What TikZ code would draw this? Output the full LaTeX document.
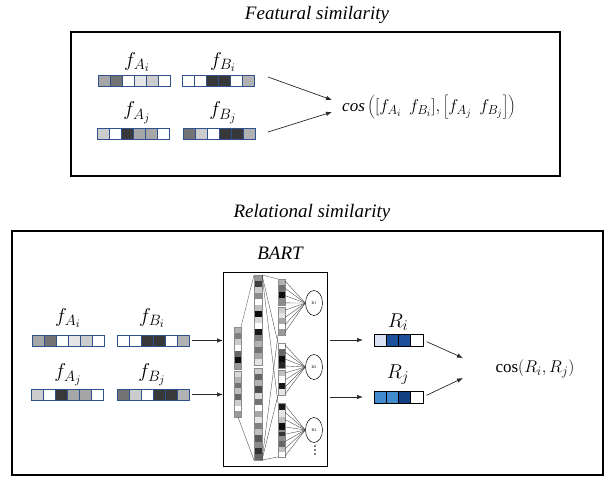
\documentclass[tikz,border=0pt]{standalone}
\usepackage{fix-cm}
\usepackage{fontspec}
\setmainfont{Liberation Serif}
\usetikzlibrary{arrows.meta,shapes.geometric}
\DeclareMathSizes{20}{20}{15}{11.5}
\DeclareMathSizes{17}{17}{13}{10}

\definecolor{cellblue}{RGB}{47,82,143}
\definecolor{riA}{RGB}{218,227,243}
\definecolor{riB}{RGB}{28,80,155}
\definecolor{rjA}{RGB}{66,140,205}
\definecolor{rjB}{RGB}{18,64,130}
\definecolor{linkgray}{RGB}{40,40,40}

\tikzset{
  panel/.style={draw=black, line width=2.4pt},
  title/.style={font=\fontsize{19}{22}\selectfont\itshape, inner sep=0},
  flabel/.style={font=\fontsize{20}{23}\selectfont, inner sep=0},
  mathtext/.style={font=\fontsize{17}{20}\selectfont, inner sep=0},
  conn/.style={draw=linkgray, line width=0.7pt, -{Latex[length=6pt,width=4.5pt]}},
  framebox/.style={inner sep=0, outer sep=0, anchor=north west},
  net/.style={draw=black!75, line width=0.35pt},
  colframe/.style={draw=black!45, line width=0.4pt},
  relnode/.style={ellipse, draw, line width=0.5pt, minimum width=17pt,
    minimum height=25pt, inner sep=0, font=\fontsize{4}{5}\selectfont},
}

% bar of six grey cells with blue outlines: name, left, top, grey list
\newcommand\featbar[4]{%
  \foreach \g [count=\k from 0] in {#4}{%
    \filldraw[draw=cellblue, line width=1pt, fill=black!\g]
      ({#2+12*\k},{#3}) rectangle ++(12,11);
  }%
  \node[framebox, minimum width=72pt, minimum height=11pt] (#1) at (#2,#3) {};
}

% bar of four relation cells: name, left, top, colour list
\newcommand\relvec[4]{%
  \foreach \c [count=\k from 0] in {#4}{%
    \filldraw[draw=black, line width=0.9pt, fill=\c]
      ({#2+12.25*\k},{#3}) rectangle ++(12.25,12);
  }%
  \node[framebox, minimum width=49pt, minimum height=12pt] (#1) at (#2,#3) {};
}

% column of grey network units: left, top, width, cell height, cells, grey list
\newcommand\netcol[6]{%
  \foreach \g [count=\k from 0] in {#6}{%
    \fill[black!\g] ({#1},{#2+#4*\k}) rectangle ++(#3,#4);
  }%
  \draw[colframe] (#1,#2) rectangle ++(#3,{#4*#5});
}

\begin{document}
\begin{tikzpicture}[x=1pt,y=-1pt]
\useasboundingbox (0,0) rectangle (605,478);

% ---------------- featural similarity ----------------
\node[title] (ftitle) at (317,15) {Featural similarity};
\draw[panel] (71,32) rectangle (560,176);

\node[flabel] (lai) at (137,62) {$f_{A_i}$};
\node[flabel] (lbi) at (223,62) {$f_{B_i}$};
\node[flabel] (laj) at (137,113) {$f_{A_j}$};
\node[flabel] (lbj) at (223,113) {$f_{B_j}$};

\featbar{tai}{98}{76}{35,55,0,10,20,0}
\featbar{tbi}{182}{76}{0,0,78,78,0,30}
\featbar{taj}{97}{129}{20,0,78,35,35,0}
\featbar{tbj}{183}{129}{55,20,0,78,78,30}

\coordinate (fi) at (268,77);
\coordinate (fj) at (268,132);
\coordinate (ti) at (332,100);
\coordinate (tj) at (332,112);
\draw[conn] (fi) -- (ti);
\draw[conn] (fj) -- (tj);

\node[mathtext, anchor=west] (fcos) at (342,107)
  {$\mathit{cos}\left(\left[f_{A_i}\;\,f_{B_i}\right]\!,\left[f_{A_j}\;\,f_{B_j}\right]\right)$};

% ---------------- relational similarity ----------------
\node[title] (rtitle) at (312,213) {Relational similarity};
\draw[panel] (12,231) rectangle (603,475);

\node[flabel] (mai) at (68,318) {$f_{A_i}$};
\node[flabel] (mbi) at (152,318) {$f_{B_i}$};
\node[flabel] (maj) at (68,375) {$f_{A_j}$};
\node[flabel] (mbj) at (152,375) {$f_{B_j}$};

\featbar{bai}{32}{335}{35,55,0,10,20,0}
\featbar{bbi}{117}{335}{0,0,78,78,0,30}
\featbar{baj}{31}{389}{20,0,78,35,35,0}
\featbar{bbj}{117}{389}{55,20,0,78,78,30}

% BART network
\node[title] (barttitle) at (280,253) {BART};
\node[framebox, draw, line width=0.6pt, minimum width=104pt, minimum height=194pt]
  (bart) at (223,272) {};

% input units
\netcol{234}{327}{7}{6}{7}{30,50,20,0,60,95,40}
\netcol{234}{371}{7}{5.75}{8}{15,30,55,25,60,20,0,40}
% hidden units
\netcol{254}{275}{8}{6}{15}{40,75,20,45,0,25,95,15,0,90,50,30,55,35,10}
\netcol{254}{368}{8}{6.13}{15}{20,60,30,70,15,55,0,35,10,50,25,65,45,80,60}
% relation-specific units
\netcol{278}{279}{7}{6.5}{4}{30,55,95,45}
\netcol{278}{307}{7}{5.6}{5}{20,10,35,0,40}
\netcol{278}{343}{7}{6.25}{4}{0,60,95,85}
\netcol{278}{370}{7}{6.25}{4}{25,0,90,10}
\netcol{278}{403}{7}{6.75}{4}{90,10,25,95}
\netcol{278}{431}{7}{5.2}{5}{80,45,60,25,0}

% connections between layers
\draw[net] (241,327) -- (254,275);
\draw[net] (238,417) -- (254,460);
\foreach \t in {279,343,403} \draw[net] (262,275) -- (278,\t);
\foreach \b in {335,395,457} \draw[net] (262,460) -- (278,\b);

\node[relnode] (rone) at (314,303) {R1};
\node[relnode] (rtwo) at (314,367) {R2};
\node[relnode] (rthree) at (314,430) {R3};

\foreach \t in {0,...,7} \draw[net] (285,{281+\t*7.3}) -- (rone.west);
\foreach \t in {0,...,7} \draw[net] (285,{345+\t*7.0}) -- (rtwo.west);
\foreach \t in {0,...,7} \draw[net] (285,{405+\t*7.3}) -- (rthree.west);

\foreach \d in {446,450,454} \fill (315,\d) circle (0.8);

% relation vectors
\node[flabel] (lri) at (398,322) {$R_i$};
\node[flabel] (lrj) at (398,375) {$R_j$};
\relvec{ri}{374}{334}{riA,riB,riB,white}
\relvec{rj}{374}{391}{rjA,rjA,rjB,white}

\draw[conn, shorten <=3pt] (bbi.east) -- (bbi.east -| bart.west);
\draw[conn, shorten <=3pt] (bbj.east) -- (bbj.east -| bart.west);
\draw[conn, shorten <=3pt, shorten >=11pt] (ri.west -| bart.east) -- (ri.west);
\draw[conn, shorten <=3pt, shorten >=11pt] (rj.west -| bart.east) -- (rj.west);

\coordinate (si) at (463,358);
\coordinate (sj) at (463,378);
\draw[conn, shorten <=4pt] (ri.east) -- (si);
\draw[conn, shorten <=4pt] (rj.east) -- (sj);

\node[mathtext] (rcos) at (535,369) {$\cos(R_i,R_j)$};
\end{tikzpicture}
\end{document}
